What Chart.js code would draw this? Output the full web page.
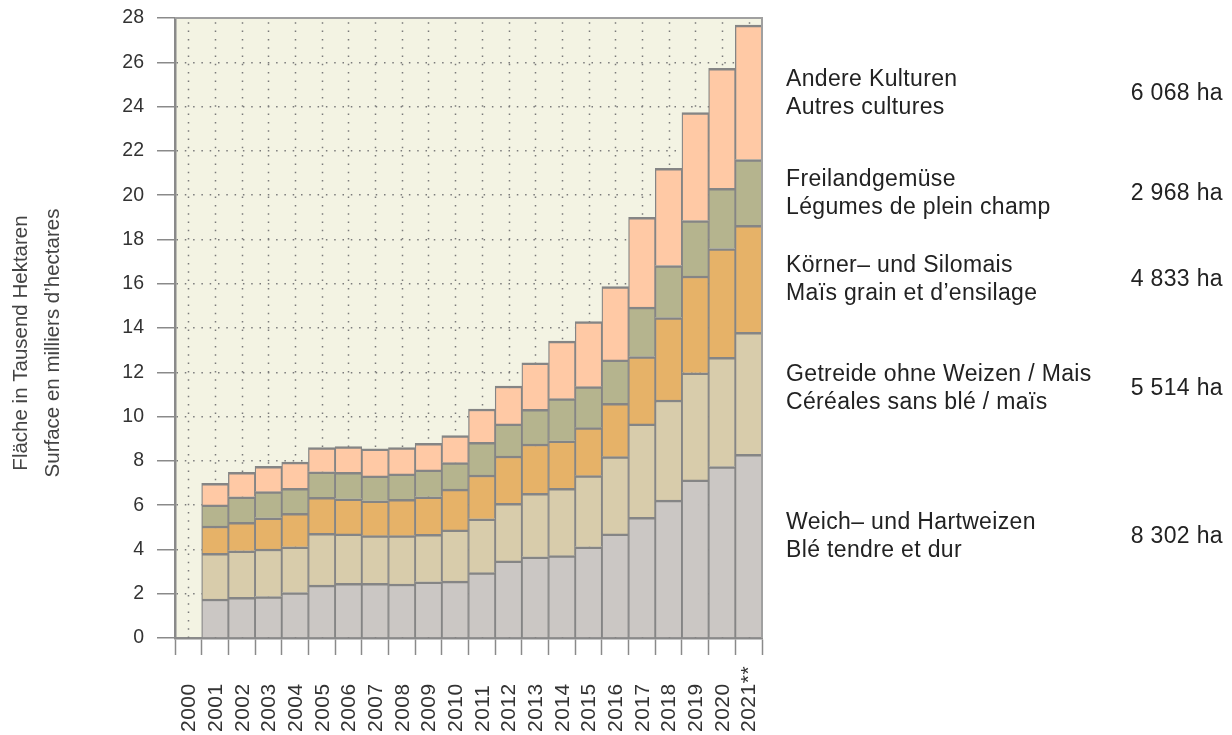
<!DOCTYPE html>
<html>
<head>
<meta charset="utf-8">
<script src="https://cdn.jsdelivr.net/npm/chart.js@4/dist/chart.umd.min.js"></script>
<style>
    html, body { margin: 0; padding: 0; background: #fff; }
    canvas { display: block; }
</style>
</head>
<body>
<canvas id="chart" width="1232" height="735"></canvas>
<script>
// Area in thousand hectares per year (stacked, bottom to top)
const years = ['2000', '2001', '2002', '2003', '2004', '2005', '2006', '2007', '2008', '2009', '2010',
    '2011', '2012', '2013', '2014', '2015', '2016', '2017', '2018', '2019', '2020', '2021**'];

const weizen   = [null, 1.76, 1.84, 1.87, 2.05, 2.39, 2.47, 2.47, 2.44, 2.54, 2.57, 2.95, 3.48, 3.67, 3.72, 4.12, 4.70, 5.45, 6.23, 7.14, 7.74, 8.30];
const getreide = [null, 2.06, 2.10, 2.15, 2.07, 2.34, 2.23, 2.15, 2.18, 2.14, 2.31, 2.43, 2.60, 2.86, 3.04, 3.21, 3.49, 4.22, 4.52, 4.84, 4.94, 5.51];
const mais     = [null, 1.24, 1.28, 1.41, 1.51, 1.62, 1.59, 1.58, 1.64, 1.70, 1.84, 1.98, 2.14, 2.23, 2.15, 2.17, 2.41, 3.04, 3.72, 4.37, 4.91, 4.83];
const gemuese  = [null, 0.95, 1.16, 1.18, 1.13, 1.16, 1.19, 1.12, 1.15, 1.21, 1.20, 1.48, 1.45, 1.57, 1.90, 1.85, 1.96, 2.23, 2.35, 2.50, 2.72, 2.97];
const andere   = [null, 0.98, 1.10, 1.14, 1.18, 1.09, 1.16, 1.22, 1.19, 1.20, 1.22, 1.50, 1.71, 2.10, 2.60, 2.94, 3.31, 4.06, 4.39, 4.88, 5.42, 6.07];

const yTicks = [0, 2, 4, 6, 8, 10, 12, 14, 16, 18, 20, 22, 24, 26, 28];

// Legend (top to bottom)
const legendDe = ['Andere Kulturen', 'Freilandgemüse', 'Körner– und Silomais', 'Getreide ohne Weizen / Mais', 'Weich– und Hartweizen'];
const legendFr = ['Autres cultures', 'Légumes de plein champ', 'Maïs grain et d’ensilage', 'Céréales sans blé / maïs', 'Blé tendre et dur'];
const legendHa = ['6 068 ha', '2 968 ha', '4 833 ha', '5 514 ha', '8 302 ha'];

const yTitle = ['Fläche in Tausend Hektaren', 'Surface en milliers d’hectares'];

const FONT = '"Liberation Sans", Arial, sans-serif';
const AXIS_GREY = '#8a8a8a';
const barBorder = { top: 2.5, left: 1.3, right: 1.3, bottom: 0 };

function makeSet(label, data, color) {
    return {
        label: label,
        data: data,
        backgroundColor: color,
        borderColor: '#858585',
        borderWidth: barBorder,
        borderSkipped: false,
        barPercentage: 1,
        categoryPercentage: 1
    };
}

// background, dotted vertical guides and the text around the plot
const decorations = {
    id: 'decorations',
    beforeDraw(chart) {
        const { ctx, chartArea: a } = chart;
        ctx.save();
        ctx.fillStyle = '#ffffff';
        ctx.fillRect(0, 0, chart.width, chart.height);
        ctx.fillStyle = '#f3f3e3';
        ctx.fillRect(a.left, a.top, a.right - a.left, a.bottom - a.top);
        ctx.restore();
    },
    beforeDatasetsDraw(chart) {
        const { ctx, chartArea: a, scales: { x } } = chart;
        ctx.save();
        ctx.strokeStyle = '#7a7a7a';
        ctx.lineWidth = 1.5;
        ctx.setLineDash([1.5, 6.8]);
        years.forEach((_, i) => {
            const px = Math.round(x.getPixelForValue(i)) + 0.5;
            ctx.beginPath();
            ctx.moveTo(px, a.bottom);
            ctx.lineTo(px, a.top);
            ctx.stroke();
        });
        ctx.restore();
    },
    afterDraw(chart) {
        const { ctx, chartArea: a, scales: { x } } = chart;
        ctx.save();

        // frame top and right
        ctx.strokeStyle = '#a0a0a0';
        ctx.lineWidth = 2;
        ctx.beginPath();
        ctx.moveTo(a.left, a.top);
        ctx.lineTo(a.right, a.top);
        ctx.lineTo(a.right, a.bottom);
        ctx.stroke();

        // year labels, read bottom to top
        ctx.fillStyle = '#333';
        ctx.font = '21px ' + FONT;
        ctx.textAlign = 'left';
        ctx.textBaseline = 'middle';
        ctx.letterSpacing = '0.5px';
        years.forEach((y, i) => {
            ctx.save();
            ctx.translate(x.getPixelForValue(i), 732);
            ctx.rotate(-Math.PI / 2);
            ctx.fillText(y, 0, 1);
            ctx.restore();
        });
        ctx.letterSpacing = '0px';

        // y title, two lines
        ctx.fillStyle = '#444';
        ctx.font = '20.5px ' + FONT;
        ctx.textAlign = 'center';
        [21, 53].forEach((lx, i) => {
            ctx.save();
            ctx.translate(lx, 343);
            ctx.rotate(-Math.PI / 2);
            ctx.fillText(yTitle[i], 0, 0);
            ctx.restore();
        });

        // legend on the right
        const baselines = [86, 186, 272, 381, 529];
        ctx.fillStyle = '#222';
        ctx.font = '23px ' + FONT;
        ctx.textBaseline = 'alphabetic';
        ctx.letterSpacing = '0.35px';
        baselines.forEach((b, i) => {
            ctx.textAlign = 'left';
            ctx.fillText(legendDe[i], 786, b);
            ctx.fillText(legendFr[i], 786, b + 28);
            ctx.textAlign = 'right';
            ctx.fillText(legendHa[i], 1223, b + 14);
        });

        ctx.restore();
    }
};

const chart = new Chart(document.getElementById('chart').getContext('2d'), {
    type: 'bar',
    data: {
        labels: years,
        datasets: [
            makeSet('Weich– und Hartweizen', weizen, '#cbc7c4'),
            makeSet('Getreide ohne Weizen/Mais', getreide, '#d8ccab'),
            makeSet('Körner– und Silomais', mais, '#e6b268'),
            makeSet('Freilandgemüse', gemuese, '#b5b48e'),
            makeSet('Andere Kulturen', andere, '#ffc9a5')
        ]
    },
    options: {
        responsive: false,
        animation: false,
        layout: { padding: { top: 18, right: 470, left: 0, bottom: 0 } },
        plugins: {
            legend: { display: false },
            tooltip: { enabled: false }
        },
        scales: {
            x: {
                stacked: true,
                offset: true,
                ticks: { display: false },
                grid: {
                    offset: true,
                    drawOnChartArea: false,
                    tickLength: 17,
                    tickColor: AXIS_GREY,
                    tickWidth: 1.5
                },
                border: { color: AXIS_GREY, width: 2.5 },
                afterFit: s => {
                    s.height = 97;
                    s.paddingLeft = 0;
                    s.paddingRight = 0;
                }
            },
            y: {
                stacked: true,
                min: yTicks[0],
                max: yTicks[yTicks.length - 1],
                afterBuildTicks: s => { s.ticks = yTicks.map(v => ({ value: v })); },
                ticks: {
                    color: '#333',
                    font: { family: FONT, size: 19.5 },
                    padding: 13
                },
                grid: {
                    color: '#7a7a7a',
                    lineWidth: 1.5,
                    tickLength: 18,
                    tickColor: AXIS_GREY,
                    tickWidth: 1.5
                },
                border: { dash: [1.5, 6.8], color: AXIS_GREY, width: 2.5 },
                afterFit: s => {
                    s.width = 175;
                    s.paddingTop = 0;
                    s.paddingBottom = 0;
                }
            }
        }
    },
    plugins: [decorations]
});
</script>
</body>
</html>
